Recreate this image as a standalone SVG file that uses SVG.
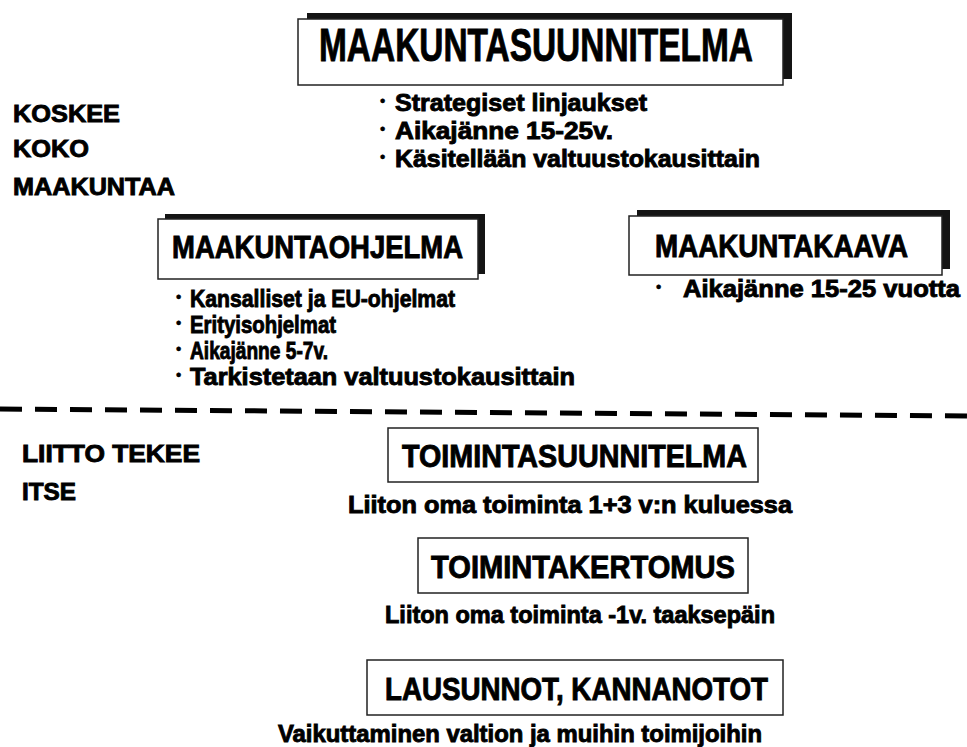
<svg xmlns="http://www.w3.org/2000/svg" width="967" height="747" viewBox="0 0 967 747">
<style>
text{font-family:"Liberation Sans",Arial,sans-serif;font-weight:bold;fill:#000;stroke:#000;stroke-width:0.9}
.box{fill:#fff;stroke:#222;stroke-width:1.5}
.sh{fill:#141414}
.t1{font-size:46px}
.t2{font-size:31px}
.b{font-size:24px}
.d{font-size:15px;stroke-width:0.4}
.l{font-size:24px}
</style>
<rect width="967" height="747" fill="#fff"/>
<g id="maakuntasuunnitelma">
<rect class="sh" x="307" y="13" width="485" height="66"/>
<rect class="box" x="298" y="19" width="485" height="66"/>
<text class="t1" x="319" y="61" textLength="434" lengthAdjust="spacingAndGlyphs">MAAKUNTASUUNNITELMA</text>
<text class="d" x="380" y="106">•</text>
<text class="b" x="395" y="111" textLength="252" lengthAdjust="spacingAndGlyphs">Strategiset linjaukset</text>
<text class="d" x="380" y="134">•</text>
<text class="b" x="395" y="139" textLength="218" lengthAdjust="spacingAndGlyphs">Aikajänne 15-25v.</text>
<text class="d" x="380" y="162">•</text>
<text class="b" x="395" y="167" textLength="365" lengthAdjust="spacingAndGlyphs">Käsitellään valtuustokausittain</text>
</g>
<g id="koskee">
<text class="l" x="13" y="122" textLength="107" lengthAdjust="spacingAndGlyphs">KOSKEE</text>
<text class="l" x="13" y="157" textLength="76" lengthAdjust="spacingAndGlyphs">KOKO</text>
<text class="l" x="13" y="195" textLength="162" lengthAdjust="spacingAndGlyphs">MAAKUNTAA</text>
</g>
<g id="maakuntaohjelma">
<rect class="sh" x="165" y="214" width="320" height="60"/>
<rect class="box" x="158" y="219" width="320" height="60"/>
<text class="t2" x="172" y="258" textLength="291" lengthAdjust="spacingAndGlyphs">MAAKUNTAOHJELMA</text>
<text class="d" x="176" y="302">•</text>
<text class="b" x="190" y="307" textLength="265" lengthAdjust="spacingAndGlyphs">Kansalliset ja EU-ohjelmat</text>
<text class="d" x="176" y="328">•</text>
<text class="b" x="190" y="333" textLength="146" lengthAdjust="spacingAndGlyphs">Erityisohjelmat</text>
<text class="d" x="176" y="354">•</text>
<text class="b" x="190" y="359" textLength="138" lengthAdjust="spacingAndGlyphs">Aikajänne 5-7v.</text>
<text class="d" x="176" y="380">•</text>
<text class="b" x="190" y="385" textLength="385" lengthAdjust="spacingAndGlyphs">Tarkistetaan valtuustokausittain</text>
</g>
<g id="maakuntakaava">
<rect class="sh" x="637" y="210" width="313" height="59"/>
<rect class="box" x="629" y="216" width="313" height="59"/>
<text class="t2" x="655" y="257" textLength="253" lengthAdjust="spacingAndGlyphs">MAAKUNTAKAAVA</text>
<text class="d" x="656" y="292">•</text>
<text class="b" x="683" y="297" textLength="277" lengthAdjust="spacingAndGlyphs">Aikajänne 15-25 vuotta</text>
</g>
<g id="connectors">
<line x1="0" y1="409" x2="967" y2="416" stroke="#000" stroke-width="5" stroke-dasharray="22 13"/>
</g>
<g id="liitto">
<text class="l" x="22" y="462" textLength="178" lengthAdjust="spacingAndGlyphs">LIITTO TEKEE</text>
<text class="l" x="22" y="500" textLength="54" lengthAdjust="spacingAndGlyphs">ITSE</text>
</g>
<g id="toimintasuunnitelma">
<rect class="box" x="388" y="428" width="370" height="54"/>
<text class="t2" x="402" y="467" textLength="345" lengthAdjust="spacingAndGlyphs">TOIMINTASUUNNITELMA</text>
<text class="l" x="348" y="513" textLength="444" lengthAdjust="spacingAndGlyphs">Liiton oma toiminta 1+3 v:n kuluessa</text>
</g>
<g id="toimintakertomus">
<rect class="box" x="418" y="538" width="330" height="55"/>
<text class="t2" x="431" y="578" textLength="304" lengthAdjust="spacingAndGlyphs">TOIMINTAKERTOMUS</text>
<text class="l" x="385" y="623" textLength="390" lengthAdjust="spacingAndGlyphs">Liiton oma toiminta -1v. taaksepäin</text>
</g>
<g id="lausunnot">
<rect class="box" x="367" y="660" width="416" height="55"/>
<text class="t2" x="385" y="700" textLength="383" lengthAdjust="spacingAndGlyphs">LAUSUNNOT, KANNANOTOT</text>
<text class="l" x="278" y="742" textLength="484" lengthAdjust="spacingAndGlyphs">Vaikuttaminen valtion ja muihin toimijoihin</text>
</g>
</svg>
